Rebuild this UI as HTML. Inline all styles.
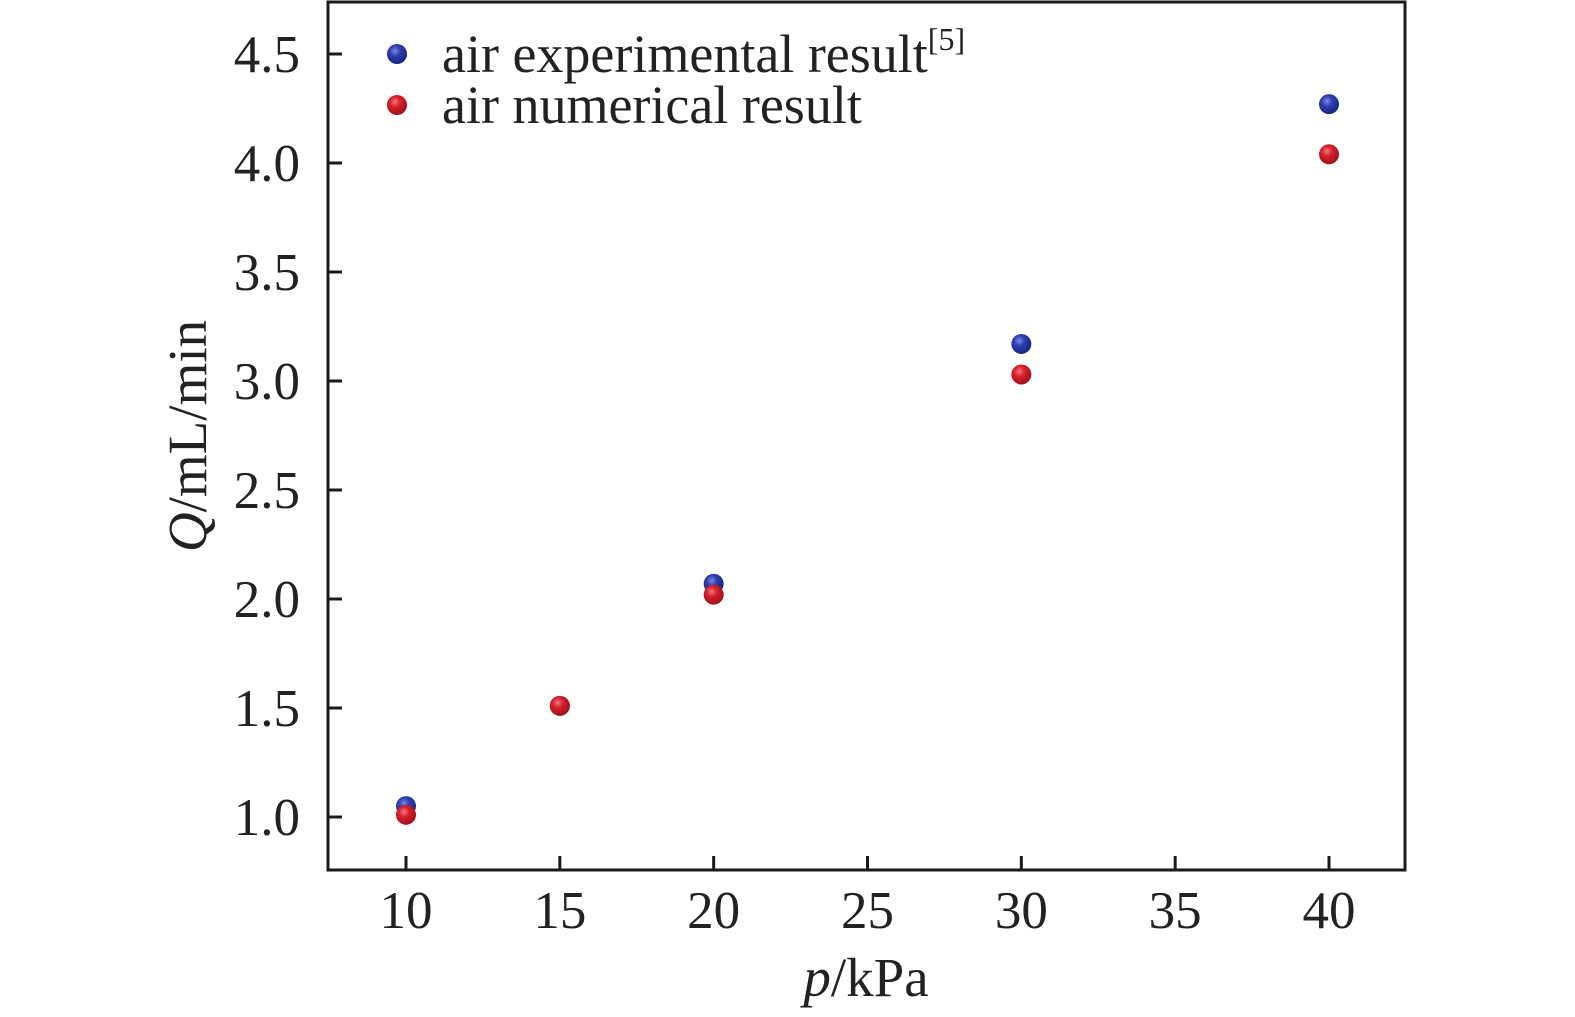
<!DOCTYPE html>
<html><head><meta charset="utf-8"><style>
html,body{margin:0;padding:0;background:#fff;}
svg{display:block;font-family:"Liberation Serif",serif;}
</style></head><body>
<svg id="chart" width="1575" height="1017">
<defs>
<radialGradient id="gb" cx="40%" cy="35%" r="65%"><stop offset="0" stop-color="#7c8ae0"/><stop offset="0.4" stop-color="#2f3fb0"/><stop offset="1" stop-color="#1a2580"/></radialGradient>
<radialGradient id="gr" cx="40%" cy="35%" r="65%"><stop offset="0" stop-color="#f07a80"/><stop offset="0.4" stop-color="#d8202c"/><stop offset="1" stop-color="#a0101a"/></radialGradient>
</defs>
<rect x="328" y="2" width="1077" height="868" fill="none" stroke="#1a1a1a" stroke-width="3"/>
<g id="xticks"></g><g id="yticks"></g><g id="marks"></g>
<text x="866" y="996" font-size="55" text-anchor="middle" fill="#222"><tspan font-style="italic">p</tspan>/kPa</text>
<text transform="translate(206,436) rotate(-90)" font-size="55" text-anchor="middle" fill="#222"><tspan font-style="italic">Q</tspan>/mL/min</text>
<g>
<circle cx="397" cy="54" r="10" fill="url(#gb)"/>
<text x="442" y="72" font-size="54" fill="#222">air experimental result<tspan font-size="32" dy="-22">[5]</tspan></text>
<circle cx="397" cy="105" r="10" fill="url(#gr)"/>
<text x="442" y="123" font-size="54" fill="#222">air numerical result</text>
</g>
</svg>
<script>
const xTickValues=[10,15,20,25,30,35,40];
const yTickValues=[1.0,1.5,2.0,2.5,3.0,3.5,4.0,4.5];
const expP=[10,15,20,30,40];
const expQ=[1.05,1.51,2.07,3.17,4.27];
const numP=[10,15,20,30,40];
const numQ=[1.01,1.51,2.02,3.03,4.04];
const NS="http://www.w3.org/2000/svg";
function sx(v){return 406+(v-10)*(1329-406)/30;}
function sy(v){return 817-(v-1)*(817-54)/3.5;}
function mk(t,a,p){const e=document.createElementNS(NS,t);for(const k in a)e.setAttribute(k,a[k]);p.appendChild(e);return e;}
const xg=document.getElementById('xticks'),yg=document.getElementById('yticks'),mg=document.getElementById('marks');
xTickValues.forEach(v=>{
 const l=mk('line',{x1:sx(v),x2:sx(v),y1:870,y2:856,stroke:'#1a1a1a','stroke-width':3},xg);
 
 
 const t=mk('text',{x:sx(v),y:928,'font-size':53,'text-anchor':'middle',fill:'#222'},xg);
 t.textContent=v;
 
 
});
yTickValues.forEach(v=>{
 const l=mk('line',{x1:328,x2:342,y1:sy(v),y2:sy(v),stroke:'#1a1a1a','stroke-width':3},yg);
 
 
 const t=mk('text',{x:300,y:sy(v)+18,'font-size':53,'text-anchor':'end',fill:'#222'},yg);
 t.textContent=v.toFixed(1);
 
 
});
expP.forEach((p,i)=>{
 const c=mk('circle',{cx:sx(p),cy:sy(expQ[i]),r:10,fill:'url(#gb)'},mg);
 
 
});
numP.forEach((p,i)=>{
 const c=mk('circle',{cx:sx(p),cy:sy(numQ[i]),r:10,fill:'url(#gr)'},mg);
 
 
});
</script>
</body></html>
